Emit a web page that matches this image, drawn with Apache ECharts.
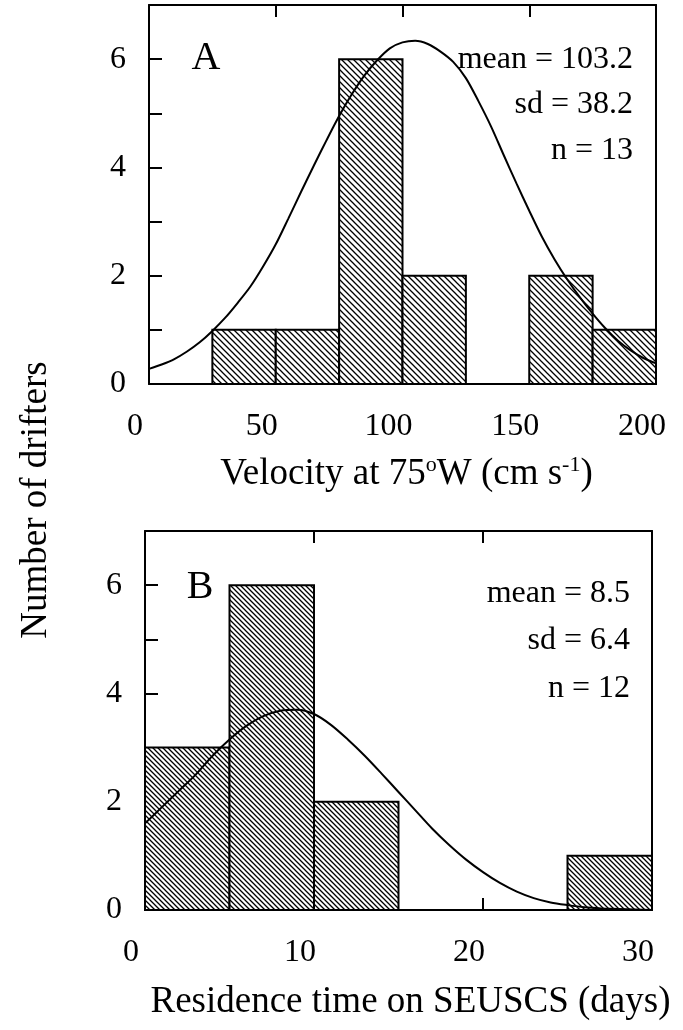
<!DOCTYPE html>
<html>
<head>
<meta charset="utf-8">
<script src="https://cdn.jsdelivr.net/npm/echarts/dist/echarts.min.js"></script>
<style>
html,body{margin:0;padding:0;background:#fff;}
#chart{width:683px;height:1030px;}
</style>
</head>
<body>
<div id="chart"></div>
<script>
// ---------- data ----------
const binStartA = [25, 50, 75, 100, 150, 175];
const binEndA   = [50, 75, 100, 125, 175, 200];
const countA    = [1, 1, 6, 2, 2, 1];
const curveAX = [0, 5, 10, 15, 20, 25, 30, 35, 40, 45, 50, 55, 60, 65, 70, 75, 80, 85, 90, 95, 100,
                 105, 110, 115, 120, 125, 130, 135, 140, 145, 150, 155, 160, 165, 170, 175, 180, 185, 190, 195, 200];
const curveAY = [0.28, 0.36, 0.46, 0.6, 0.77, 0.98, 1.22, 1.5, 1.8, 2.17, 2.58, 3.06, 3.55, 4.03, 4.5, 4.95, 5.35, 5.7, 5.98, 6.2, 6.31,
                 6.34, 6.28, 6.14, 5.95, 5.65, 5.22, 4.75, 4.22, 3.7, 3.2, 2.72, 2.3, 1.93, 1.6, 1.3, 1.03, 0.8, 0.62, 0.48, 0.38];
const statsA = ['mean = 103.2', 'sd = 38.2', 'n = 13'];

const binStartB = [0, 5, 10, 25];
const binEndB   = [5, 10, 15, 30];
const countB    = [3, 6, 2, 1];
const curveBX = [0, 1, 2, 3, 4, 5, 6, 7, 8, 9, 10, 11, 12, 13, 14, 15, 16, 17, 18, 19, 20, 21, 22, 23, 24, 25, 26, 27, 28, 29, 30];
const curveBY = [1.6, 1.9, 2.2, 2.5, 2.85, 3.15, 3.4, 3.58, 3.68, 3.7, 3.62, 3.42, 3.15, 2.85, 2.52, 2.18, 1.84, 1.5, 1.2, 0.93, 0.7, 0.5, 0.34, 0.22, 0.14, 0.09, 0.05, 0.03, 0.02, 0.01, 0.0];
const statsB = ['mean = 8.5', 'sd = 6.4', 'n = 12'];

const xTitleA = 'Velocity at 75{sup|o}W (cm s{sup|-1})';
const xTitleB = 'Residence time on SEUSCS (days)';
const yTitle = 'Number of drifters';

// ---------- styles ----------
const FONT = '"Liberation Serif", "Times New Roman", serif';
function hatch(size) {
  const c = document.createElement('canvas');
  c.width = size; c.height = size;
  const g = c.getContext('2d');
  g.fillStyle = '#fff'; g.fillRect(0, 0, size, size);
  g.strokeStyle = '#000'; g.lineWidth = 1.3;
  g.beginPath();
  g.moveTo(-1, -1); g.lineTo(size + 1, size + 1);
  g.moveTo(-1, size - 1); g.lineTo(1, size + 1);
  g.moveTo(size - 1, -1); g.lineTo(size + 1, 1);
  g.stroke();
  return { image: c, repeat: 'repeat' };
}
const patA = hatch(6);
const patB = hatch(5);

function histRender(pattern) {
  return function (params, api) {
    const p0 = api.coord([api.value(0), api.value(2)]);
    const p1 = api.coord([api.value(1), 0]);
    return {
      type: 'rect',
      shape: { x: p0[0], y: p0[1], width: p1[0] - p0[0], height: p1[1] - p0[1] },
      style: { fill: pattern, stroke: '#000', lineWidth: 2 }
    };
  };
}

const lineStyle = { color: '#000', width: 2 };
const tickLabel = { fontFamily: FONT, fontSize: 32, color: '#000' };

function xBottom(grid, max, interval, name, nameGap, namePad) {
  return {
    gridIndex: grid, type: 'value', min: 0, max: max, interval: interval, position: 'bottom',
    axisLine: { onZero: false, lineStyle: lineStyle },
    axisTick: { inside: true, length: 12, lineStyle: lineStyle },
    axisLabel: Object.assign({ margin: 27, padding: [0, 28, 0, 0] }, tickLabel),
    splitLine: { show: false },
    name: name, nameLocation: 'middle', nameGap: nameGap,
    nameTextStyle: {
      fontFamily: FONT, fontSize: 37, color: '#000', padding: namePad, lineHeight: 40,
      rich: { sup: { fontFamily: FONT, fontSize: 22, color: '#000', verticalAlign: 'top', lineHeight: 40 } }
    }
  };
}
function xTop(grid, max, interval) {
  return {
    gridIndex: grid, type: 'value', min: 0, max: max, interval: interval, position: 'top',
    axisLine: { onZero: false, lineStyle: lineStyle },
    axisTick: { inside: true, length: 12, lineStyle: lineStyle },
    axisLabel: { show: false }, splitLine: { show: false }
  };
}
function yLeft(grid) {
  return {
    gridIndex: grid, type: 'value', min: 0, max: 7, interval: 1, position: 'left',
    axisLine: { show: true, onZero: false, lineStyle: lineStyle },
    axisTick: { inside: true, length: 13, lineStyle: lineStyle },
    axisLabel: Object.assign({ margin: 23, formatter: v => (v % 2 === 0 ? String(v) : '') }, tickLabel),
    splitLine: { show: false }
  };
}
function yRight(grid) {
  return {
    gridIndex: grid, type: 'value', min: 0, max: 7, interval: 1, position: 'right',
    axisLine: { show: true, onZero: false, lineStyle: lineStyle },
    axisTick: { show: false }, axisLabel: { show: false }, splitLine: { show: false }
  };
}

function statTexts(lines, rightX, ys) {
  return lines.map((t, i) => ({
    type: 'text', x: rightX, y: ys[i],
    style: { text: t, fontFamily: FONT, fontSize: 32, fill: '#000', align: 'right', verticalAlign: 'middle' }
  }));
}

const chart = echarts.init(document.getElementById('chart'), null, { renderer: 'canvas' });
chart.setOption({
  backgroundColor: '#fff',
  animation: false,
  grid: [
    { left: 149, right: 27, top: 5, height: 379 },
    { left: 145, right: 31, top: 531, height: 379 }
  ],
  xAxis: [
    xBottom(0, 200, 50, xTitleA, 70, [0, 0, 0, 8]),
    xTop(0, 200, 50),
    xBottom(1, 30, 10, xTitleB, 72, [0, 0, 0, 24]),
    xTop(1, 30, 10)
  ],
  yAxis: [yLeft(0), yRight(0), yLeft(1), yRight(1)],
  series: [
    {
      type: 'custom', xAxisIndex: 0, yAxisIndex: 0, z: 2,
      renderItem: histRender(patA),
      data: binStartA.map((s, i) => [s, binEndA[i], countA[i]])
    },
    {
      type: 'line', xAxisIndex: 0, yAxisIndex: 0, z: 3, smooth: 0.3, showSymbol: false,
      lineStyle: { color: '#000', width: 2 },
      data: curveAX.map((x, i) => [x, curveAY[i]])
    },
    {
      type: 'custom', xAxisIndex: 2, yAxisIndex: 2, z: 2,
      renderItem: histRender(patB),
      data: binStartB.map((s, i) => [s, binEndB[i], countB[i]])
    },
    {
      type: 'line', xAxisIndex: 2, yAxisIndex: 2, z: 3, smooth: 0.3, showSymbol: false,
      lineStyle: { color: '#000', width: 2 },
      data: curveBX.map((x, i) => [x, curveBY[i]])
    }
  ],
  graphic: [
    { type: 'text', x: 206, y: 58, style: { text: 'A', fontFamily: FONT, fontSize: 40, fill: '#000', align: 'center', verticalAlign: 'middle' } },
    { type: 'text', x: 200, y: 587, style: { text: 'B', fontFamily: FONT, fontSize: 40, fill: '#000', align: 'center', verticalAlign: 'middle' } },
    { type: 'text', x: 36, y: 500, rotation: Math.PI / 2, style: { text: yTitle, fontFamily: FONT, fontSize: 37, fill: '#000', align: 'center', verticalAlign: 'middle' } }
  ].concat(statTexts(statsA, 633, [60, 105, 151]), statTexts(statsB, 630, [594, 641, 689]))
});
</script>
</body>
</html>
